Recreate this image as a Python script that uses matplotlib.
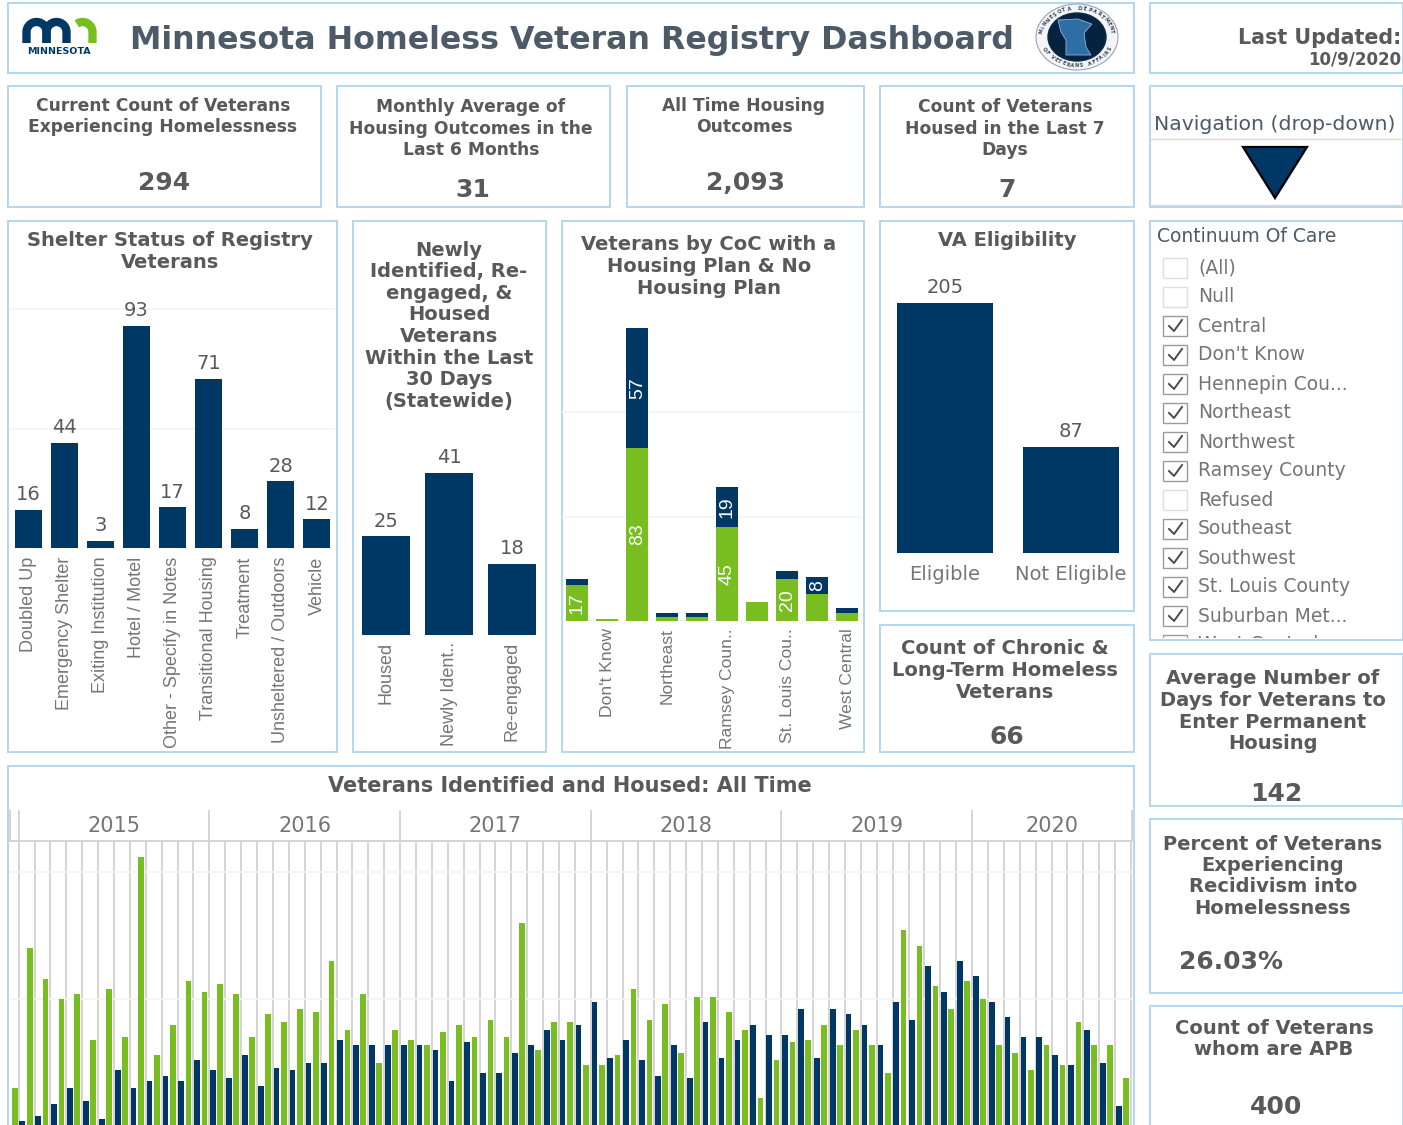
#!/usr/bin/env python
# -*- coding: utf-8 -*-

import matplotlib

matplotlib.use("Agg")
import matplotlib.pyplot as plt
import numpy as np
from matplotlib.patches import Ellipse, Polygon, Rectangle

W, H = 1403, 1125
NAVY = "#003865"
GREEN = "#78be20"
BORDER = "#b3d7f2"
GREY = "#595959"
LABEL = "#757575"
GRID = "#f3f3f3"
NARROW = "Liberation Sans"

# Shelter status
shelter_names = ["Doubled Up", "Emergency Shelter", "Exiting Institution", "Hotel / Motel",
                 "Other - Specify in Notes", "Transitional Housing", "Treatment",
                 "Unsheltered / Outdoors", "Vehicle"]
shelter_vals = [16, 44, 3, 93, 17, 71, 8, 28, 12]

# Newly identified
newly_names = ["Housed", "Newly Ident..", "Re-engaged"]
newly_vals = [25, 41, 18]

# CoC, housing plan (green) and no housing plan (navy)
coc_names = ["Central", "Don't Know", "Hennepin", "Northeast", "Northwest", "Ramsey Coun..",
             "Southeast", "St. Louis Cou..", "Suburban", "West Central"]
coc_plan = [17, 1, 83, 2, 2, 45, 9, 20, 13, 4]
coc_noplan = [3, 0, 57, 2, 2, 19, 0, 4, 8, 2]
coc_plan_text = ["17", "", "83", "", "", "45", "", "20", "", ""]
coc_noplan_text = ["", "", "57", "", "", "19", "", "", "8", ""]

# VA eligibility
va_names = ["Eligible", "Not Eligible"]
va_vals = [205, 87]

# All time, Jan 2015 to Oct 2020
years = ["2015", "2016", "2017", "2018", "2019", "2020"]
identified_dec14 = 15
identified = [70, 58, 50, 52, 34, 54, 35, 106, 28, 40, 57, 53,
              56, 52, 35, 44, 41, 46, 45, 65, 38, 52, 25, 38,
              34, 32, 37, 40, 35, 42, 35, 80, 30, 41, 41, 24,
              24, 28, 54, 42, 48, 29, 51, 51, 45, 38, 11, 26,
              33, 34, 40, 32, 38, 32, 21, 77, 71, 55, 46, 57,
              50, 32, 29, 22, 32, 24, 41, 32, 32, 19]
housed = [2, 4, 9, 15, 10, 3, 22, 15, 18, 20, 18, 26,
          22, 19, 28, 16, 23, 22, 25, 25, 34, 32, 32, 32,
          32, 32, 30, 18, 33, 21, 21, 29, 32, 38, 34, 40,
          49, 27, 34, 26, 20, 32, 19, 41, 27, 34, 40, 36,
          36, 46, 27, 46, 44, 40, 32, 49, 42, 63, 53, 65,
          59, 49, 43, 35, 35, 28, 24, 38, 25, 8]

# Filter list
filter_names = ["(All)", "Null", "Central", "Don't Know", "Hennepin Cou...", "Northeast", "Northwest",
                "Ramsey County", "Refused", "Southeast", "Southwest", "St. Louis County",
                "Suburban Met...", "West Central"]
filter_checked = [False, False, True, True, True, True, True, True, False, True, True, True, True, True]

# Text cards: box, title lines, title x, first line y, title size, value, value x, value y
cards = [
    ((8, 86, 321, 207), ["Current Count of Veterans", "Experiencing Homelessness"], 163, 106, 12.3, "294", 164, 183),
    ((337, 86, 610, 207), ["Monthly Average of", "Housing Outcomes in the", "Last 6 Months"], 471, 107, 12.3, "31", 473, 190),
    ((627, 86, 864, 207), ["All Time Housing", "Outcomes"], 744, 106, 12.3, "2,093", 745, 183),
    ((880, 86, 1134, 207), ["Count of Veterans", "Housed in the Last 7", "Days"], 1005, 107, 12.3, "7", 1007, 190),
    ((880, 625, 1134, 752), ["Count of Chronic &", "Long-Term Homeless", "Veterans"], 1005, 649, 14, "66", 1007, 737),
    ((1150, 654, 1403, 806), ["Average Number of", "Days for Veterans to", "Enter Permanent", "Housing"], 1273, 679, 14, "142", 1276, 794),
    ((1150, 819, 1403, 993), ["Percent of Veterans", "Experiencing", "Recidivism into", "Homelessness"], 1273, 844, 14, "26.03%", 1231, 962),
    ((1150, 1006, 1403, 1135), ["Count of Veterans", "whom are APB"], 1274, 1028, 14, "400", 1276, 1107),
]

fig = plt.figure(figsize=(W / 100, H / 100), dpi=100, facecolor="white")
bg = fig.add_axes([0, 0, 1, 1])
bg.set_xlim(0, W)
bg.set_ylim(H, 0)
bg.axis("off")


# Card border in pixel coordinates
def box(x0, y0, x1, y1):
    bg.add_patch(Rectangle((x0, y0), x1 - x0, y1 - y0, fc="white", ec=BORDER, lw=1.4))


# Lines of text at a fixed step
def lines(x, y, rows, step=21.5, size=14, weight="bold", color=GREY):
    for i, row in enumerate(rows):
        bg.text(x, y + i * step, row, ha="center", va="center", fontsize=size,
                fontweight=weight, color=color)


# Chart axes placed by pixel box
def chart(x0, y0, x1, y1):
    ax = fig.add_axes([x0 / W, 1 - y1 / H, (x1 - x0) / W, (y1 - y0) / H], zorder=2)
    ax.patch.set_alpha(0)
    for s in ax.spines.values():
        s.set_visible(False)
    ax.tick_params(left=False, labelleft=False, bottom=False)
    ax.set_axisbelow(True)
    ax.grid(axis="y", color=GRID, lw=1.2)
    ax.grid(axis="x", visible=False)
    return ax


def rot_labels(ax, names, ticks=None, pad=6, size=13):
    ticks = range(len(names)) if ticks is None else ticks
    ax.set_xticks(list(ticks), names, rotation=90, family=NARROW, fontsize=size, color=LABEL)
    ax.tick_params(axis="x", pad=pad, length=0)


def bar_values(ax, x, vals, size=14):
    for a, b in zip(x, vals):
        ax.annotate(str(b), (a, b), xytext=(0, 4), textcoords="offset points", ha="center",
                    va="bottom", fontsize=size, color=GREY)


# One logo arch with its two stems
def arch(cx, color, start=180):
    t = np.radians(np.linspace(start, 0, 30))
    xs = cx + 10 * np.cos(t)
    ys = 32 - 10 * np.sin(t)
    if start == 180:
        xs = np.r_[xs[0], xs, xs[-1]]
        ys = np.r_[43, ys, 43]
    else:
        xs = np.r_[xs, xs[-1]]
        ys = np.r_[ys, 43]
    bg.plot(xs, ys, color=color, lw=6, solid_capstyle="butt", solid_joinstyle="round")


# Header
box(8, 3, 1134, 73)
box(1150, 3, 1403, 73)
bg.text(130, 40, "Minnesota Homeless Veteran Registry Dashboard", va="center", fontsize=22.8,
        fontweight="bold", color="#4d5a68")
bg.text(1401, 38, "Last Updated:", ha="right", va="center", fontsize=14.9, fontweight="bold", color=GREY)
bg.text(1401, 60, "10/9/2020", ha="right", va="center", fontsize=12, fontweight="bold", color=GREY)

# State logo
arch(36.5, NAVY)
arch(56.5, NAVY)
arch(82.5, GREEN, start=125)
bg.text(59, 51.5, "MINNESOTA", ha="center", va="center", fontsize=6.8, fontweight="bold", color=NAVY)

# Seal
bg.add_patch(Ellipse((1077, 37), 82, 66, fc="#f3f5f8", ec="#9aa5b1", lw=0.8))
bg.add_patch(Ellipse((1077, 37), 58, 48, fc="#06223f", ec="#0b2c4d", lw=1))
bg.add_patch(Polygon([(1058, 20), (1078, 19), (1092, 24), (1084, 33), (1086, 47), (1091, 55),
                      (1066, 55), (1066, 40), (1061, 32)], fc="#2f6ea5", ec="#7db9e8", lw=0.6))
for txt, start, stop, top in [("MINNESOTA DEPARTMENT", 168, 12, True), ("OF VETERANS AFFAIRS", 205, 335, False)]:
    for ch, ang in zip(txt, np.linspace(start, stop, len(txt))):
        a = np.radians(ang)
        rot = ang - 90 if top else ang + 90
        bg.text(1077 + 36 * np.cos(a), 37 - 28.5 * np.sin(a), ch, fontsize=3.6, color="#3a4754",
                rotation=rot, ha="center", va="center", fontweight="bold")

# Text cards
for (x0, y0, x1, y1), title, tx, ty, tsize, value, vx, vy in cards:
    box(x0, y0, x1, y1)
    lines(tx, ty, title, size=tsize)
    bg.text(vx, vy, value, ha="center", va="center", fontsize=18, fontweight="bold", color=GREY)

# Navigation
box(1150, 86, 1403, 207)
bg.text(1274.5, 124, "Navigation (drop-down)", ha="center", va="center", fontsize=14.7, color="#4d5a68")
bg.plot([1151, 1402], [138.5, 138.5], color="#d9d9d9", lw=1)
bg.plot([1151, 1402], [205, 205], color="#d9d9d9", lw=1)
bg.add_patch(Polygon([(1243, 147), (1307, 147), (1275, 198)], fc=NAVY, ec="black", lw=1.6))

# Shelter status
box(8, 221, 337, 752)
lines(170, 241, ["Shelter Status of Registry", "Veterans"])
ax = chart(10, 300, 335, 548)
ax.bar(range(len(shelter_vals)), shelter_vals, width=0.75, color=NAVY)
ax.set_xlim(-0.5, 8.5)
ax.set_ylim(0, 248 / 2.387)
ax.set_yticks([0, 50, 100])
rot_labels(ax, shelter_names)
bar_values(ax, range(len(shelter_vals)), shelter_vals)

# Newly identified
box(353, 221, 546, 752)
lines(449, 250, ["Newly", "Identified, Re-", "engaged, &", "Housed", "Veterans", "Within the Last",
                 "30 Days", "(Statewide)"], step=21.6)
ax = chart(354.5, 440, 543.5, 635)
ax.bar(range(len(newly_vals)), newly_vals, width=0.75, color=NAVY)
ax.set_xlim(-0.5, 2.5)
ax.set_ylim(0, 195 / 3.95)
ax.set_yticks([])
rot_labels(ax, newly_names, pad=5)
bar_values(ax, range(len(newly_vals)), newly_vals)

# Veterans by CoC
box(562, 221, 864, 752)
lines(709, 245, ["Veterans by CoC with a", "Housing Plan & No", "Housing Plan"])
ax = chart(562.3, 310, 862.3, 621)
xs = np.arange(len(coc_plan))
ax.bar(xs, coc_plan, width=0.73, color=GREEN)
ax.bar(xs, coc_noplan, width=0.73, bottom=coc_plan, color=NAVY)
for x, a, b, ta, tb in zip(xs, coc_plan, coc_noplan, coc_plan_text, coc_noplan_text):
    ax.text(x, a / 2, ta, rotation=90, ha="center", va="center", color="white", fontsize=14, family=NARROW)
    ax.text(x, a + b / 2, tb, rotation=90, ha="center", va="center", color="white", fontsize=14, family=NARROW)
ax.set_xlim(-0.5, 9.5)
ax.set_ylim(0, 311 / 2.09)
ax.set_yticks([0, 50, 100])
rot_labels(ax, coc_names[1::2], ticks=xs[1::2], pad=5, size=12.6)

# VA eligibility
box(880, 221, 1134, 611)
lines(1007, 241, ["VA Eligibility"])
ax = chart(882, 280, 1134, 553)
ax.bar(range(len(va_vals)), va_vals, width=0.76, color=NAVY)
ax.set_xlim(-0.5, 1.5)
ax.set_ylim(0, 273 / 1.22)
ax.set_yticks([])
ax.set_xticks(range(len(va_vals)), va_names, fontsize=14, color=LABEL)
ax.tick_params(axis="x", pad=9, length=0)
bar_values(ax, range(len(va_vals)), va_vals)

# Filter list, clipped by its card
box(1150, 221, 1403, 640)
bg.text(1157, 236, "Continuum Of Care", va="center", fontsize=13.5, color="#4d5a68")
clip = Rectangle((1151, 222), 251, 416, transform=bg.transData)
for i, (name, on) in enumerate(zip(filter_names, filter_checked)):
    y = 268 + i * 29
    cb = Rectangle((1163, y - 10), 24, 20, fc="white", ec="#9a9a9a" if on else "#dedede", lw=1)
    bg.add_patch(cb)
    cb.set_clip_path(clip)
    if on:
        tick, = bg.plot([1169, 1174, 1182], [y, y + 5, y - 6], color="#4a4a4a", lw=1.4)
        tick.set_clip_path(clip)
    t = bg.text(1198, y, name, va="center", fontsize=13.5, color=LABEL)
    t.set_clip_on(True)
    t.set_clip_path(clip)

# All time
box(8, 766, 1134, 1135)
lines(570, 786, ["Veterans Identified and Housed: All Time"], size=15)
ax = chart(10, 840.7, 1132, 1126.5)
months = np.arange(len(housed))
month_w = 15.89
x_start = -(18.7 - 10) / month_w
x_end = (1132 - 18.7) / month_w
ax.set_xlim(x_start, x_end)
ax.set_ylim(0, 285.8 / 2.547)
ax.set_yticks([50, 100])
ax.set_xticks([])
ax.vlines(np.arange(0, 71), 0, 1, transform=ax.get_xaxis_transform(), color="#d4d4d4", lw=1.4, zorder=0.5)
ax.bar(months + 0.23, housed, width=0.36, color=NAVY, zorder=2)
ax.bar(months + 0.69, identified, width=0.36, color=GREEN, zorder=2)
ax.bar(-0.23, identified_dec14, width=0.36, color=GREEN, zorder=2)
trans = ax.get_xaxis_transform()
top = 1 + 29.7 / 285.8
ax.plot([x_start, x_end], [1, 1], transform=trans, color="#d4d4d4", lw=1.4, clip_on=False)
for i, yr in enumerate(years):
    ax.plot([i * 12, i * 12], [1, top], transform=trans, color="#d4d4d4", lw=1.4, clip_on=False)
    end = min((i + 1) * 12, 70)
    ax.text((i * 12 + end) / 2, 1 + 14.5 / 285.8, yr, transform=trans, ha="center", va="center",
            fontsize=15, color=LABEL)
ax.plot([x_end, x_end], [1, top], transform=trans, color="#d4d4d4", lw=1.4, clip_on=False)
ax.plot([x_start, x_start], [1, top], transform=trans, color="#d4d4d4", lw=1.4, clip_on=False)

fig.savefig("out.png", dpi=100)
